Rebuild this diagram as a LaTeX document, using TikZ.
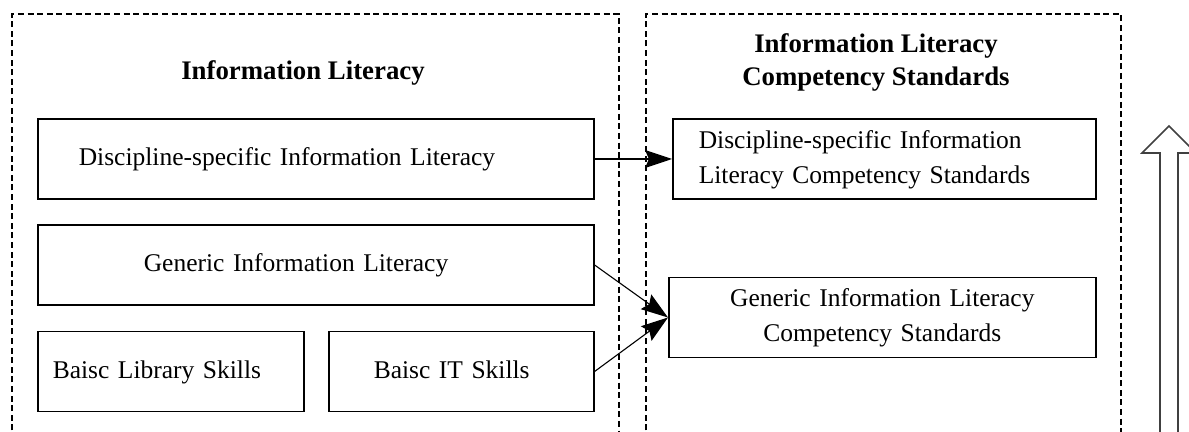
\documentclass[tikz,border=0pt]{standalone}
\usepackage{fontspec}
\setmainfont{Liberation Serif}
\usetikzlibrary{arrows.meta}

\tikzset{
	box/.style={draw, line width=0.8pt, anchor=west, minimum height=40pt, inner ysep=0pt, align=left, font=\fontsize{12.75}{17.5}\selectfont, execute at begin node={\strut}, execute at end node={\strut}},
	heading/.style={align=center, font=\fontsize{13.4}{16.5}\selectfont\bfseries},
	frame/.style={dash pattern=on 3pt off 1.8pt, line width=0.65pt},
	link/.style={-{Stealth[length=13.5pt,width=9pt,inset=2pt]}, line width=0.55pt},
	uparrow/.style={draw=black!75, line width=0.8pt, line join=miter},
}

\begin{document}
\begin{tikzpicture}[x=0.5pt,y=-0.5pt]
					\useasboundingbox (0,0) rectangle (1189,432);
					\clip (0,0) rectangle (1189,432);
					%Left group
					\draw[frame] (12,440) |- (619,14) -- (619,440);
					\node[heading] (iltitle) at (303,73) {Information Literacy};
					\node[box, inner xsep=20.5pt, text width=237pt] (dil) at (37,159) {Discipline-specific Information Literacy};
					\node[box, inner xsep=53pt, text width=172pt] (gil) at (37,265) {Generic Information Literacy};
					\node[box, inner xsep=7.5pt, text width=118pt] (lib) at (37,371.5) {Baisc Library Skills};
					\node[box, inner xsep=22.5pt, text width=87.5pt] (it) at (328,371.5) {Baisc IT Skills};
					%Right group
					\draw[frame] (646,440) |- (1121,14) -- (1121,440);
					\node[heading] (ilcstitle) at (876,62) {Information Literacy\\Competency Standards};
					\node[box, inner xsep=13pt, text width=185.5pt] (dics) at (672,159) {Discipline-specific Information\\Literacy Competency Standards};
					\node[box, align=center, inner xsep=0pt, text width=213.5pt] (gics) at (668,317.5) {Generic Information Literacy\\Competency Standards};
					%Links
					\draw[link] (dil.east) -- (dics.west);
					\draw[link] (gil.east) -- (gics.west);
					\draw[link] (it.east) -- (gics.west);
					%Up arrow
					\draw[uparrow] (1160,440) -- (1160,153) -- (1142,153) -- (1169,126) -- (1196,153) -- (1178,153) -- (1178,440);
					
\end{tikzpicture}
\end{document}
